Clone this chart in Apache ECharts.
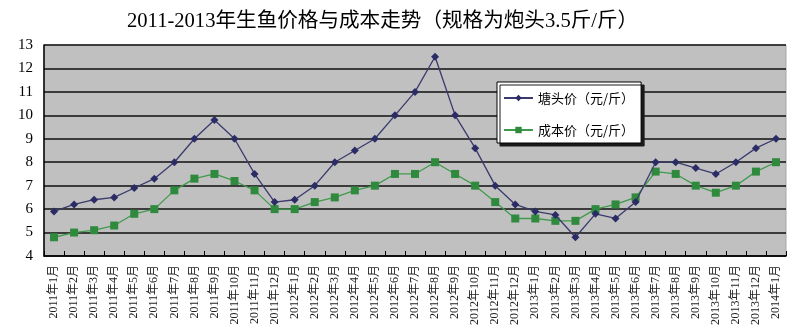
<!DOCTYPE html>
<html>
<head>
<meta charset="utf-8">
<script src="https://cdn.jsdelivr.net/npm/echarts@6/dist/echarts.min.js"></script>
<style>
  html, body { margin: 0; padding: 0; background: #fff; }
  #chart { width: 810px; height: 335px; }
</style>
</head>
<body>
<div id="chart"></div>
<script>
// Months from 2011-01 to 2014-01
const months = [
  '2011年1月','2011年2月','2011年3月','2011年4月','2011年5月','2011年6月',
  '2011年7月','2011年8月','2011年9月','2011年10月','2011年11月','2011年12月',
  '2012年1月','2012年2月','2012年3月','2012年4月','2012年5月','2012年6月',
  '2012年7月','2012年8月','2012年9月','2012年10月','2012年11月','2012年12月',
  '2013年1月','2013年2月','2013年3月','2013年4月','2013年5月','2013年6月',
  '2013年7月','2013年8月','2013年9月','2013年10月','2013年11月','2013年12月',
  '2014年1月'
];

// Pond-side price (yuan / jin)
const pondPrice = [
  5.9, 6.2, 6.4, 6.5, 6.9, 7.3, 8.0, 9.0, 9.8, 9.0, 7.5, 6.3,
  6.4, 7.0, 8.0, 8.5, 9.0, 10.0, 11.0, 12.5, 10.0, 8.6, 7.0, 6.2,
  5.9, 5.75, 4.8, 5.8, 5.6, 6.3, 8.0, 8.0, 7.75, 7.5, 8.0, 8.6,
  9.0
];

// Production cost (yuan / jin)
const costPrice = [
  4.8, 5.0, 5.1, 5.3, 5.8, 6.0, 6.8, 7.3, 7.5, 7.2, 6.8, 6.0,
  6.0, 6.3, 6.5, 6.8, 7.0, 7.5, 7.5, 8.0, 7.5, 7.0, 6.3, 5.6,
  5.6, 5.5, 5.5, 6.0, 6.2, 6.5, 7.6, 7.5, 7.0, 6.7, 7.0, 7.6,
  8.0
];

const yTicks = { min: 4, max: 13, interval: 1 };

const serif = '"Liberation Serif", "DejaVu Serif", "Noto Sans CJK SC", serif';

const chart = echarts.init(document.getElementById('chart'), null, { renderer: 'canvas' });

chart.setOption({
  animation: false,
  backgroundColor: '#ffffff',
  title: {
    text: '2011-2013年生鱼价格与成本走势（规格为炮头3.5斤/斤）',
    left: 127,
    top: 11,
    padding: 0,
    textStyle: {
      fontFamily: serif,
      fontSize: 20.6,
      fontWeight: 'normal',
      color: '#000'
    }
  },
  legend: {
    orient: 'vertical',
    left: 497,
    top: 82,
    padding: [9, 7, 6, 6],
    itemGap: 18,
    itemWidth: 29,
    itemHeight: 8,
    backgroundColor: '#ffffff',
    borderColor: '#000000',
    borderWidth: 1,
    shadowColor: '#1a1a1a',
    shadowBlur: 0,
    shadowOffsetX: 3,
    shadowOffsetY: 3,
    textStyle: {
      fontFamily: '"Noto Sans CJK SC", sans-serif',
      fontSize: 13,
      lineHeight: 14,
      color: '#000'
    },
    data: ['塘头价（元/斤）', '成本价（元/斤）']
  },
  grid: {
    left: 44,
    right: 24,
    top: 45,
    bottom: 79,
    show: true,
    backgroundColor: '#c0c0c0',
    borderColor: '#a8a8a8',
    borderWidth: 1
  },
  xAxis: {
    type: 'category',
    data: months,
    boundaryGap: true,
    axisLine: { lineStyle: { color: '#000', width: 1.5 } },
    axisTick: {
      show: true,
      inside: true,
      length: 5,
      lineStyle: { color: '#000', width: 1 }
    },
    axisLabel: {
      interval: 0,
      rotate: 90,
      margin: 9,
      fontFamily: serif,
      fontSize: 12,
      color: '#222'
    },
    splitLine: { show: false }
  },
  yAxis: {
    type: 'value',
    min: yTicks.min,
    max: yTicks.max,
    interval: yTicks.interval,
    axisLine: { show: true, lineStyle: { color: '#000', width: 1.5 } },
    axisTick: { show: false },
    axisLabel: {
      margin: 11,
      fontFamily: serif,
      fontSize: 15,
      color: '#000'
    },
    splitLine: { show: true, lineStyle: { color: '#111', width: 1.5 } }
  },
  series: [
    {
      name: '塘头价（元/斤）',
      type: 'line',
      data: pondPrice,
      symbol: 'diamond',
      symbolSize: 8,
      lineStyle: { color: '#3a3a6e', width: 1.3 },
      itemStyle: { color: '#2b2b66' },
      z: 3
    },
    {
      name: '成本价（元/斤）',
      type: 'line',
      data: costPrice,
      symbol: 'rect',
      symbolSize: 8,
      lineStyle: { color: '#3f9a4c', width: 1.3 },
      itemStyle: { color: '#2f8a3e' },
      z: 2
    }
  ]
});
</script>
</body>
</html>
